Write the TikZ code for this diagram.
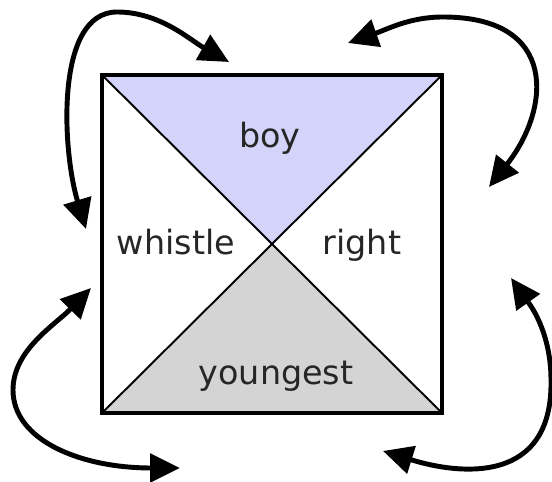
\documentclass[tikz,border=0pt]{standalone}
\usepackage{fontspec}
\setmainfont{DejaVu Sans}
\usetikzlibrary{arrows.meta}
\definecolor{boyblue}{RGB}{212,212,250}
\definecolor{younggray}{RGB}{212,212,212}
\begin{document}
\begin{tikzpicture}[x=0.02cm,y=-0.02cm,
  word/.style={anchor=base, text=black!85, inner sep=0pt, font=\fontsize{19}{23}\selectfont},
  turn/.style={line width=2.8pt, {Triangle[length=17pt,width=16pt]}-{Triangle[length=17pt,width=16pt]}}]
\useasboundingbox (0,0) rectangle (552,482);
% the square
\coordinate (tl) at (102,75);
\coordinate (tr) at (442,75);
\coordinate (br) at (442,413);
\coordinate (bl) at (102,413);
\coordinate (c) at (272,244);
\fill[boyblue] (tl) -- (tr) -- (c) -- cycle;
\fill[younggray] (bl) -- (br) -- (c) -- cycle;
\draw[line width=1.1pt] (tl) -- (br) (tr) -- (bl);
\draw[line width=2.2pt] (tl) rectangle (br);
\node[word] (boy) at (270,148) {boy};
\node[word] (whistle) at (176,255) {whistle};
\node[word] (right) at (362,255) {right};
\node[word] (youngest) at (276,385) {youngest};
% the arcs round the corners
\coordinate (tla) at (86,229);
\coordinate (tlm) at (117,12);
\coordinate (tlb) at (229,62);
\coordinate (tra) at (348,43);
\coordinate (trm) at (443,17);
\coordinate (trb) at (489,187);
\coordinate (bla) at (91,288);
\coordinate (blm) at (13,390);
\coordinate (blb) at (180,468);
\coordinate (bra) at (383,451);
\coordinate (brm) at (551,380);
\coordinate (brb) at (511,278);
\draw[turn] (tla) .. controls (62,150) and (55,12) .. (tlm) .. controls (160,12) and (190,40) .. (tlb);
\draw[turn] (tra) .. controls (388,29) and (410,17) .. (trm) .. controls (560,17) and (550,110) .. (trb);
\draw[turn] (bla) .. controls (55,325) and (13,350) .. (blm) .. controls (13,440) and (80,468) .. (blb);
\draw[turn] (bra) .. controls (460,475) and (553,485) .. (brm) .. controls (551,330) and (528,302) .. (brb);
\end{tikzpicture}
\end{document}
